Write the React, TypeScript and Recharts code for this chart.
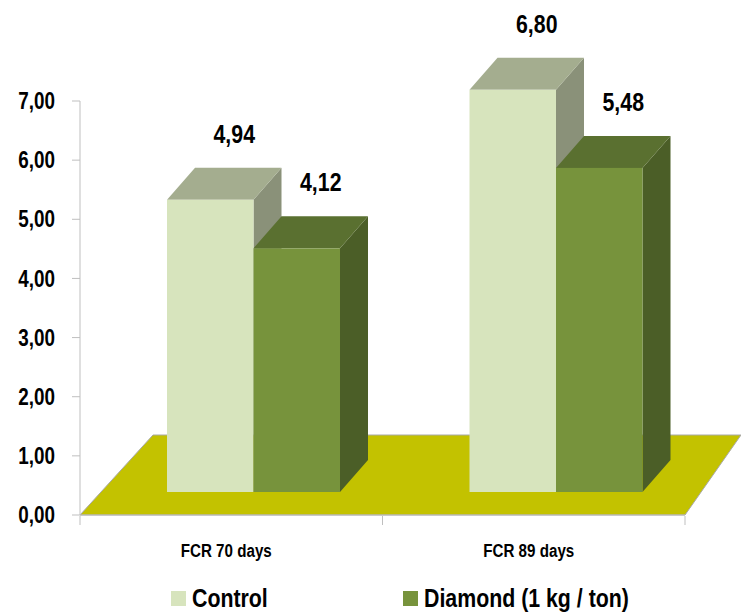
import React from 'react';
import { BarChart, Bar, XAxis, YAxis, ReferenceArea, LabelList, Legend } from 'recharts';

const categories = ['FCR 70 days', 'FCR 89 days'];
const controlValues = [4.94, 6.8];
const diamondValues = [4.12, 5.48];
const yTicks = [0, 1, 2, 3, 4, 5, 6, 7];
const seriesNames = ['Control', 'Diamond (1 kg / ton)'];

const data = categories.map((c, i) => ({ name: c, control: controlValues[i], diamond: diamondValues[i] }));

const FONT = "'Liberation Sans', Arial, sans-serif";
const SQUEEZE = 0.82; // horizontal condensing to mimic a narrow font

// 3D geometry
const SX = 22;
const SY = 23;
const DX = 28;
const DY = 32;
const FLOOR_DY = 80;
const FLOOR_DX_LEFT = 73;
const FLOOR_DX_RIGHT = 56;

const COLORS = {
  control: { front: '#D7E4BD', top: '#A4AD8F', side: '#8A9179' },
  diamond: { front: '#77933C', top: '#5A7030', side: '#4B5E27' },
};

const fmt = (v: number) => v.toFixed(2).replace('.', ',');

const makeShape = (c: { front: string; top: string; side: string }) => (props: any) => {
  const { x, y, width, height } = props;
  const fx = x + SX;
  const fy = y - SY;
  const w = width;
  const h = height;
  const top = `${fx},${fy} ${fx + w},${fy} ${fx + w + DX},${fy - DY} ${fx + DX},${fy - DY}`;
  const side = `${fx + w},${fy} ${fx + w + DX},${fy - DY} ${fx + w + DX},${fy + h - DY} ${fx + w},${fy + h}`;
  return (
    <g>
      <polygon points={side} fill={c.side} />
      <polygon points={top} fill={c.top} />
      <rect x={fx} y={fy} width={w} height={h} fill={c.front} />
    </g>
  );
};

const FloorShape = (props: any) => {
  const { x, y, width, height } = props;
  const base = y + height;
  const pts = `${x},${base} ${x + width},${base} ${x + width + FLOOR_DX_RIGHT},${base - FLOOR_DY} ${x + FLOOR_DX_LEFT},${base - FLOOR_DY}`;
  const n = categories.length;
  const ticks = [];
  for (let i = 0; i <= n; i++) {
    const tx = x + (width * i) / n;
    ticks.push(<line key={i} x1={tx} y1={base + 1} x2={tx} y2={base + 10} stroke="#BFBFBF" strokeWidth={1} />);
  }
  return (
    <g>
      <polygon points={pts} fill="#C3C200" stroke="#A8A8A8" strokeWidth={1} />
      {ticks}
    </g>
  );
};

const SqText = ({ x, y, anchor, size, weight, dy, children }: any) => (
  <g transform={`translate(${x},${y})`}>
    <text
      transform={`scale(${SQUEEZE},1)`}
      x={0}
      y={0}
      dy={dy}
      textAnchor={anchor}
      fontFamily={FONT}
      fontWeight={weight}
      fontSize={size}
      fill="#000"
    >
      {children}
    </text>
  </g>
);

const YTick = (props: any) => {
  const { x, y, payload } = props;
  return (
    <SqText x={x} y={y} anchor="end" size={23} weight="bold" dy="0.355em">
      {fmt(Number(payload.value))}
    </SqText>
  );
};

const XTick = (props: any) => {
  const { x, y, payload } = props;
  return (
    <SqText x={x - 5} y={y} anchor="middle" size={18.5} weight="bold" dy="0.71em">
      {payload.value}
    </SqText>
  );
};

const ValueLabel = (props: any) => {
  const { x, y, width, value } = props;
  if (value == null) return null;
  return (
    <SqText x={x + SX + width / 2 + 24} y={y - SY - 57} anchor="middle" size={26} weight="bold" dy={0}>
      {fmt(Number(value))}
    </SqText>
  );
};

const LegendContent = (props: any) => {
  const { payload } = props;
  const lefts = [171, 403];
  return (
    <div style={{ position: 'relative', width: 741, height: 30 }}>
      {(payload || []).map((p: any, i: number) => (
        <div
          key={i}
          style={{
            position: 'absolute',
            left: lefts[i],
            top: 0,
            display: 'flex',
            alignItems: 'center',
            whiteSpace: 'nowrap',
          }}
        >
          <span style={{ display: 'inline-block', width: 15, height: 15, background: p.color, marginRight: 6 }} />
          <span
            style={{
              display: 'inline-block',
              fontFamily: FONT,
              fontWeight: 'bold',
              fontSize: 26,
              color: '#000',
              lineHeight: '30px',
              transform: `scaleX(${SQUEEZE})`,
              transformOrigin: 'left center',
            }}
          >
            {p.value}
          </span>
        </div>
      ))}
    </div>
  );
};

export default function App() {
  return (
    <div style={{ position: 'absolute', left: 0, top: 0, width: 741, height: 613, background: '#fff' }}>
      <BarChart
        width={741}
        height={613}
        data={data}
        margin={{ top: 101, right: 56, bottom: 8, left: 0 }}
        barGap={0}
        barSize={86.5}
      >
        <YAxis
          type="number"
          domain={[0, 7]}
          ticks={yTicks}
          width={80}
          tickSize={8}
          tickMargin={17}
          axisLine={{ stroke: '#BFBFBF' }}
          tickLine={{ stroke: '#BFBFBF' }}
          tick={YTick}
        />
        <XAxis
          dataKey="name"
          type="category"
          height={60}
          tickLine={false}
          tickSize={0}
          tickMargin={29}
          axisLine={{ stroke: '#BFBFBF' }}
          tick={XTick}
        />
        <ReferenceArea y1={0} y2={1} ifOverflow="visible" shape={FloorShape} />
        <Bar
          dataKey="control"
          name={seriesNames[0]}
          fill={COLORS.control.front}
          shape={makeShape(COLORS.control)}
          isAnimationActive={false}
        >
          <LabelList dataKey="control" content={ValueLabel} />
        </Bar>
        <Bar
          dataKey="diamond"
          name={seriesNames[1]}
          fill={COLORS.diamond.front}
          shape={makeShape(COLORS.diamond)}
          isAnimationActive={false}
        >
          <LabelList dataKey="diamond" content={ValueLabel} />
        </Bar>
        <Legend
          verticalAlign="bottom"
          height={30}
          content={LegendContent}
          wrapperStyle={{ position: 'absolute', left: 0, top: 583, width: 741, height: 30 }}
        />
      </BarChart>
    </div>
  );
}
